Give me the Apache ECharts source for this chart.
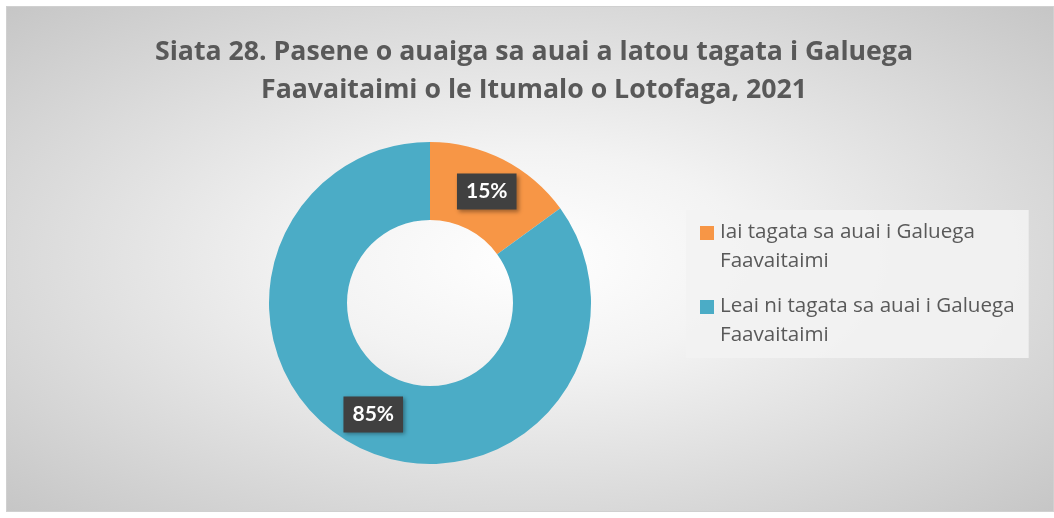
<!DOCTYPE html>
<html>
<head>
    <meta charset="utf-8">
    <title>Siata 28</title>
    <script src="https://cdn.jsdelivr.net/npm/echarts@6/dist/echarts.min.js"></script>
    <style>
        html, body { margin: 0; padding: 0; background: #fff; }
        #frame {
            position: absolute; left: 6px; top: 6px; width: 1046px; height: 504px;
            border: 1px solid #d0d0d0;
            background: radial-gradient(ellipse at 50% 50%, #ffffff 0%, #f3f3f3 30%, #c6c6c6 100%);
        }
        #main { position: absolute; left: 0; top: 0; width: 1054px; height: 518px; }
    </style>
</head>
<body>
<div id="frame"></div>
<div id="main"></div>
<script>
    // data
    var categories = ['Iai tagata sa auai i Galuega Faavaitaimi', 'Leai ni tagata sa auai i Galuega Faavaitaimi'];
    var legendNames = ['Iai tagata sa auai i Galuega\nFaavaitaimi', 'Leai ni tagata sa auai i Galuega\nFaavaitaimi'];
    var shares = [15, 85];
    var colors = ['#F79646', '#4BACC6'];

    var font = '"Open Sans", Lato, sans-serif';
    var pieData = [];
    for (var i = 0; i < categories.length; i++) {
        pieData.push({ name: legendNames[i], value: shares[i], itemStyle: { color: colors[i] } });
    }

    var myChart = echarts.init(document.getElementById('main'));
    var option = {
        backgroundColor: 'transparent',
        animation: false,
        title: {
            text: 'Siata 28. Pasene o auaiga sa auai a latou tagata i Galuega\nFaavaitaimi o le Itumalo o Lotofaga, 2021',
            left: 529,
            textAlign: 'center',
            top: 28,
            textStyle: { fontFamily: font, fontSize: 26.7, fontWeight: 'bold', color: '#595959', lineHeight: 38 }
        },
        legend: {
            orient: 'vertical',
            left: 686,
            top: 210,
            padding: [8, 14, 8, 14],
            backgroundColor: 'rgba(242,242,242,0.92)',
            itemWidth: 15,
            itemHeight: 58,
            itemGap: 16,
            // square sits next to the first text line
            icon: 'path://M0,8h14v14h-14z M15,0 M0,58',
            textStyle: { fontFamily: font, fontSize: 20.6, color: '#595959', lineHeight: 29 },
            data: legendNames
        },
        series: [{
            type: 'pie',
            center: [430, 303],
            radius: [83, 161],
            startAngle: 90,
            clockwise: true,
            label: {
                show: true,
                position: 'inside',
                formatter: function (p) { return p.value + '%'; },
                fontFamily: 'Lato, sans-serif',
                fontSize: 21,
                fontWeight: 'bold',
                color: '#ffffff',
                backgroundColor: '#404040',
                padding: [8, 9, 7, 9],
                shadowColor: 'rgba(0,0,0,0.35)',
                shadowBlur: 4,
                shadowOffsetX: 2,
                shadowOffsetY: 2
            },
            labelLine: { show: false },
            emphasis: { disabled: true },
            data: pieData
        }]
    };
    myChart.setOption(option);
</script>
</body>
</html>
